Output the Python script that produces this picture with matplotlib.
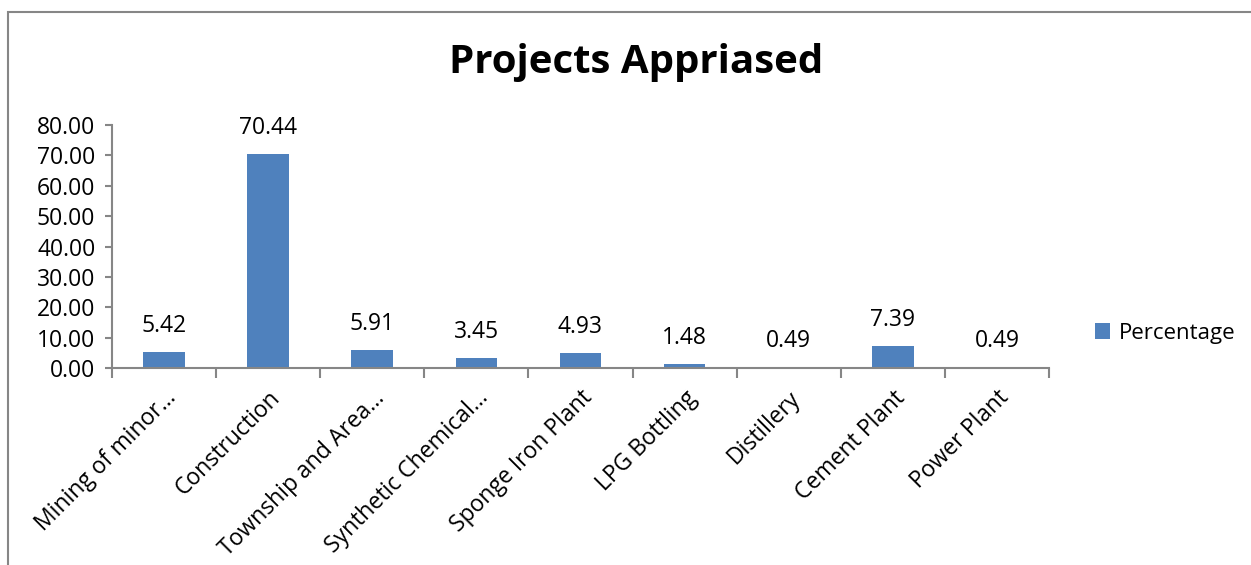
import matplotlib
matplotlib.use("Agg")
import matplotlib.pyplot as plt
from matplotlib.patches import Rectangle

categories = ["Mining of minor…", "Construction", "Township and Area…", "Synthetic Chemical…",
              "Sponge Iron Plant", "LPG Bottling", "Distillery", "Cement Plant", "Power Plant"]
values = [5.42, 70.44, 5.91, 3.45, 4.93, 1.48, 0.49, 7.39, 0.49]
series_name = "Percentage"
title = "Projects Appriased"

plt.rcParams['font.family'] = ['Open Sans', 'DejaVu Sans']
W, H = 1251, 565
fig = plt.figure(figsize=(W / 100, H / 100), dpi=100)
fig.patch.set_facecolor("white")

# outer chart border (left and top visible)
fig.add_artist(Rectangle((8 / W, -0.1), 1.2, (1 - 12 / H) + 0.1, transform=fig.transFigure,
                         fill=False, edgecolor="#868686", linewidth=1.5))

ax = fig.add_axes([112 / W, 1 - 368 / H, (1049 - 112) / W, (368 - 125) / H])
axis_col = "#868686"
fs = 16.5
x = list(range(len(categories)))
bars = ax.bar(x, values, width=0.4, color="#4F81BD", label=series_name, zorder=2)

ax.set_xlim(-0.5, len(categories) - 0.5)
ax.set_ylim(0, 80)
ax.set_yticks(range(0, 81, 10))
ax.set_yticklabels([f"{v:.2f}" for v in range(0, 81, 10)], fontsize=fs)

ax.set_xticks([i - 0.5 for i in range(len(categories) + 1)])
ax.set_xticklabels([])
ax.set_xticks(x, minor=True)
ax.set_xticklabels(categories, minor=True, rotation=45, ha="right", va="top",
                   rotation_mode="anchor", fontsize=fs)
ax.tick_params(axis="x", which="minor", length=0, pad=13)
ax.tick_params(axis="x", which="major", length=7, width=1.5, color=axis_col)
ax.tick_params(axis="y", length=5, width=1.5, color=axis_col, pad=7)

for s in ["top", "right"]:
    ax.spines[s].set_visible(False)
for s in ["left", "bottom"]:
    ax.spines[s].set_color(axis_col)
    ax.spines[s].set_linewidth(1.5)

for b, v in zip(bars, values):
    ax.annotate(f"{v:.2f}", (b.get_x() + b.get_width() / 2, v), xytext=(0, 10),
                textcoords="offset points", ha="center", va="bottom", fontsize=fs)

fig.text(636 / W, 1 - 63 / H, title, ha="center", va="center", fontsize=29, fontweight="bold")

leg = fig.legend(handles=[bars], labels=[series_name], loc="center left",
                 bbox_to_anchor=(1086 / W, 1 - 333 / H), frameon=False, fontsize=16,
                 handlelength=0.7, handleheight=0.7, handletextpad=0.4, borderaxespad=0)

fig.savefig("out.png", dpi=100)
